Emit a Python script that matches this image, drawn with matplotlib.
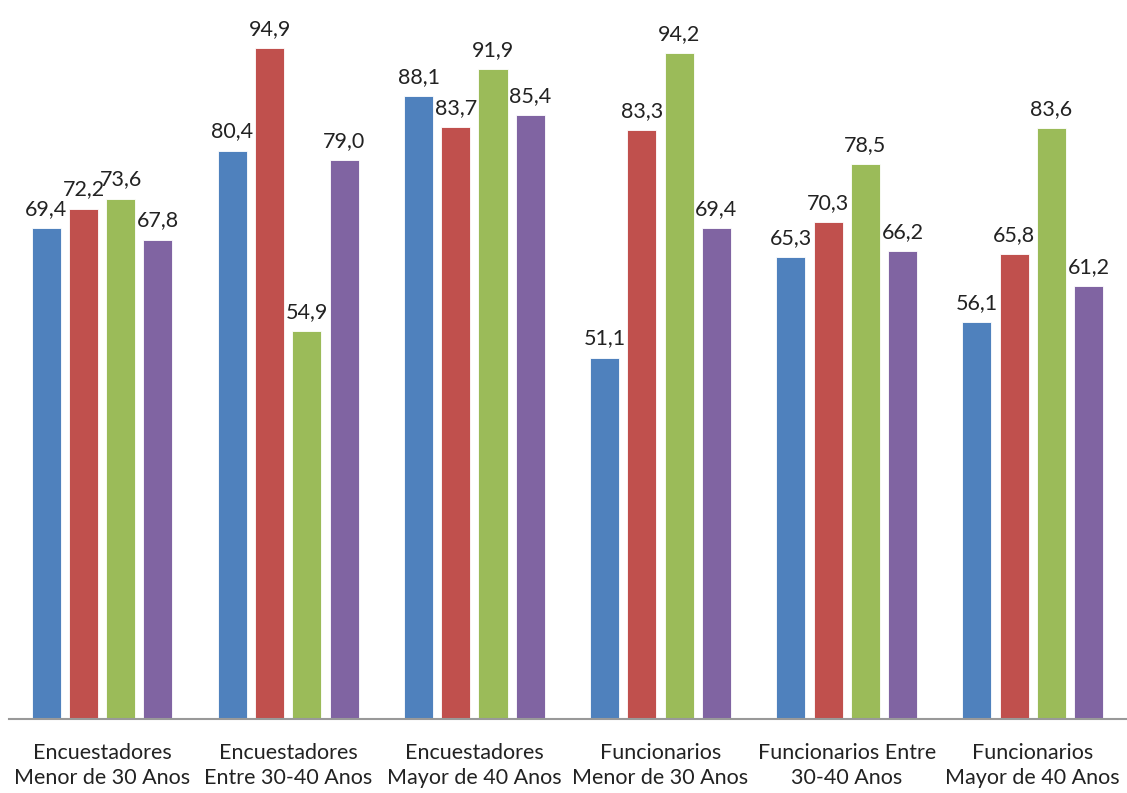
import numpy as np
import matplotlib.pyplot as plt

# data
categories = ["Encuestadores\nMenor de 30 Anos", "Encuestadores\nEntre 30-40 Anos",
              "Encuestadores\nMayor de 40 Anos", "Funcionarios\nMenor de 30 Anos",
              "Funcionarios Entre\n30-40 Anos", "Funcionarios\nMayor de 40 Anos"]
serie_1 = [69.4, 80.4, 88.1, 51.1, 65.3, 56.1]
serie_2 = [72.2, 94.9, 83.7, 83.3, 70.3, 65.8]
serie_3 = [73.6, 54.9, 91.9, 94.2, 78.5, 83.6]
serie_4 = [67.8, 79.0, 85.4, 69.4, 66.2, 61.2]

series = [serie_1, serie_2, serie_3, serie_4]
colors = ['#4F81BD', '#C0504D', '#9BBB59', '#8064A2']

plt.rcParams['font.family'] = ['Lato', 'DejaVu Sans']

fig = plt.figure(figsize=(11.27, 7.93), dpi=100)
ax = fig.add_axes([0.008, 0.0933, 0.991, 0.9067])

x = np.arange(len(categories))
width = 0.156
step = 0.2
for i, (vals, col) in enumerate(zip(series, colors)):
    pos = x + (i - 1.5) * step
    bars = ax.bar(pos, vals, width, color=col, edgecolor='white', linewidth=0.6)
    for b, v in zip(bars, vals):
        ax.text(b.get_x() + b.get_width() / 2, v + 1.3, f"{v:.1f}".replace('.', ','),
                ha='center', va='bottom', fontsize=15.5, color='#222222')

ax.set_xlim(-0.5, 5.5)
ax.set_ylim(0, 101.7)
ax.set_yticks([])
ax.set_xticks(x)
ax.set_xticklabels(categories, fontsize=15.5, color='#222222', linespacing=1.35)
ax.tick_params(axis='x', length=0, pad=17)
for s in ['top', 'right', 'left']:
    ax.spines[s].set_visible(False)
ax.spines['bottom'].set_color('#999999')
ax.spines['bottom'].set_linewidth(1.5)

plt.savefig('out.png', dpi=100)
